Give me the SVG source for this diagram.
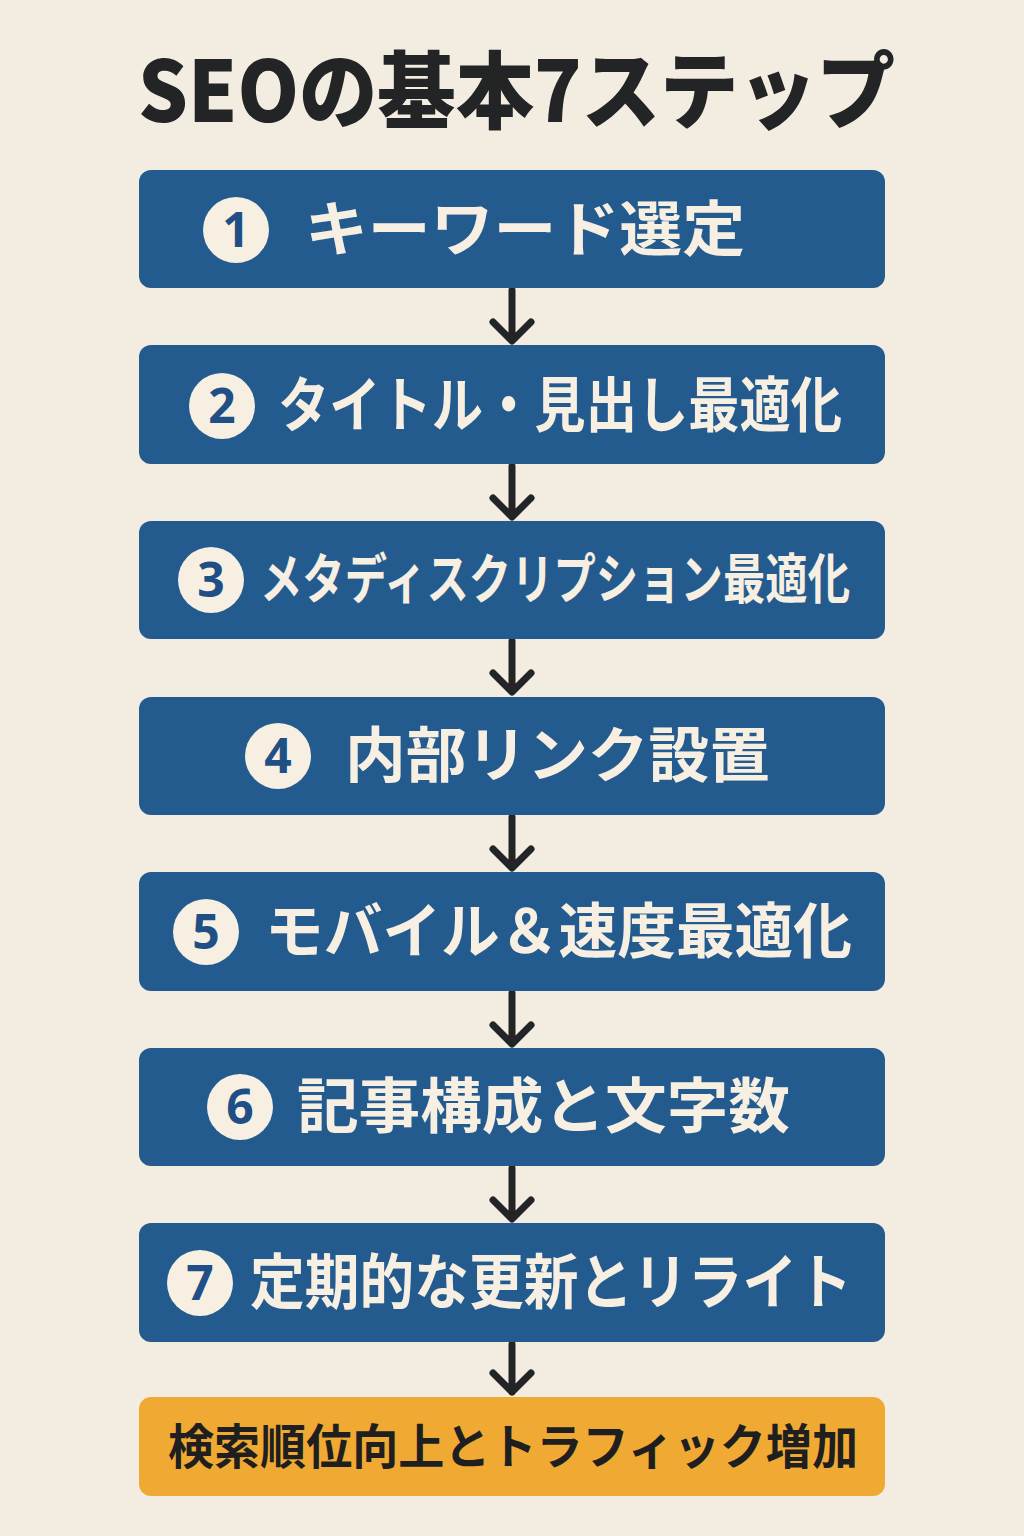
<svg xmlns="http://www.w3.org/2000/svg" width="1024" height="1536" viewBox="0 0 1024 1536">
<defs>
<style>
.box{fill:#245b8f;}
.goal{fill:#f0aa33;}
.lbl{font-family:"Noto Sans CJK JP","Noto Sans",sans-serif;font-weight:700;font-size:60px;fill:#f7efe2;}
.lbl3{font-size:54px;}
.goaltxt{font-family:"Noto Sans CJK JP","Noto Sans",sans-serif;font-weight:700;font-size:48px;fill:#1f1f1f;}
.title{font-family:"Noto Sans CJK JP","Noto Sans",sans-serif;font-weight:900;font-size:84px;fill:#222426;}
.circ{fill:#f7efe2;}
.num{font-family:"Open Sans","Noto Sans",sans-serif;font-weight:700;font-size:48px;fill:#1f4f85;text-anchor:middle;}
.arr{fill:none;stroke:#222426;stroke-width:7;stroke-linecap:round;stroke-linejoin:round;}
</style>
</defs>
<rect width="1024" height="1536" fill="#f3ece0"/>
<text class="title" x="138" y="122" textLength="757" lengthAdjust="spacingAndGlyphs">SEOの基本7ステップ</text>

<g id="connectors">
<path class="arr" d="M512 290V340M493 322L512 341L531 322"/>
<path class="arr" d="M512 466V516M493 498L512 517L531 498"/>
<path class="arr" d="M512 641V691M493 673L512 692L531 673"/>
<path class="arr" d="M512 817V867M493 849L512 868L531 849"/>
<path class="arr" d="M512 993V1043M493 1025L512 1044L531 1025"/>
<path class="arr" d="M512 1168V1218M493 1200L512 1219L531 1200"/>
<path class="arr" d="M512 1344V1392M493 1373L512 1392L531 1373"/>
</g>

<g id="step1">
<rect class="box" x="139" y="170" width="746" height="118" rx="12"/>
<circle class="circ" cx="236" cy="230" r="33"/>
<text class="num" x="236" y="247">1</text>
<text class="lbl" x="305" y="251" textLength="440" lengthAdjust="spacingAndGlyphs">キーワード選定</text>
</g>
<g id="step2">
<rect class="box" x="139" y="345" width="746" height="119" rx="12"/>
<circle class="circ" cx="222" cy="406" r="33"/>
<text class="num" x="222" y="423">2</text>
<text class="lbl" x="278" y="427" textLength="564" lengthAdjust="spacingAndGlyphs">タイトル・見出し最適化</text>
</g>
<g id="step3">
<rect class="box" x="139" y="521" width="746" height="118" rx="12"/>
<circle class="circ" cx="211" cy="580" r="33"/>
<text class="num" x="211" y="597">3</text>
<text class="lbl lbl3" x="260" y="599" textLength="590" lengthAdjust="spacingAndGlyphs">メタディスクリプション最適化</text>
</g>
<g id="step4">
<rect class="box" x="139" y="697" width="746" height="118" rx="12"/>
<circle class="circ" cx="278" cy="756" r="33"/>
<text class="num" x="278" y="773">4</text>
<text class="lbl" x="345" y="777" textLength="425" lengthAdjust="spacingAndGlyphs">内部リンク設置</text>
</g>
<g id="step5">
<rect class="box" x="139" y="872" width="746" height="119" rx="12"/>
<circle class="circ" cx="206" cy="932" r="33"/>
<text class="num" x="206" y="949">5</text>
<text class="lbl" x="265" y="953" textLength="587" lengthAdjust="spacingAndGlyphs">モバイル＆速度最適化</text>
</g>
<g id="step6">
<rect class="box" x="139" y="1048" width="746" height="118" rx="12"/>
<circle class="circ" cx="240" cy="1107" r="33"/>
<text class="num" x="240" y="1124">6</text>
<text class="lbl" x="297" y="1128" textLength="493" lengthAdjust="spacingAndGlyphs">記事構成と文字数</text>
</g>
<g id="step7">
<rect class="box" x="139" y="1223" width="746" height="119" rx="12"/>
<circle class="circ" cx="200" cy="1283" r="33"/>
<text class="num" x="200" y="1300">7</text>
<text class="lbl" x="250" y="1304" textLength="602" lengthAdjust="spacingAndGlyphs">定期的な更新とリライト</text>
</g>
<g id="goal">
<rect class="goal" x="139" y="1397" width="746" height="99" rx="12"/>
<text class="goaltxt" x="168" y="1464" textLength="690" lengthAdjust="spacingAndGlyphs">検索順位向上とトラフィック増加</text>
</g>
</svg>
